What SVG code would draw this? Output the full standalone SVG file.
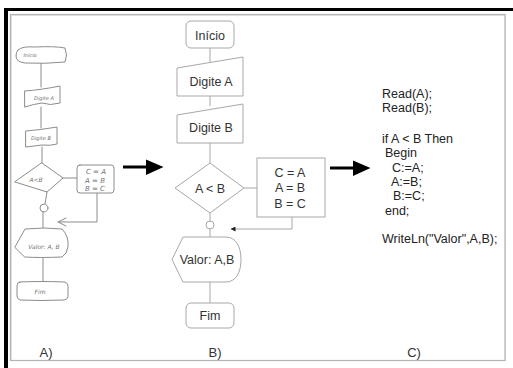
<svg xmlns="http://www.w3.org/2000/svg" width="513" height="368" viewBox="0 0 513 368">
  <style>
    .sk { fill: #ffffff; stroke: #8c8c8c; stroke-width: 1; stroke-linejoin: round; stroke-linecap: round; }
    .skl { fill: none; stroke: #8c8c8c; stroke-width: 1; stroke-linecap: round; }
    .skt { font-family: "DejaVu Sans", sans-serif; font-style: italic; fill: #707070; text-anchor: middle; }
    .fc { fill: #ffffff; stroke: #a8a8a8; stroke-width: 1; }
    .fcl { fill: none; stroke: #a8a8a8; stroke-width: 1; }
    .fct { font-family: "Liberation Sans", Arial, sans-serif; font-size: 12.5px; fill: #333333; text-anchor: middle; }
    .code { font-family: "Liberation Sans", Arial, sans-serif; font-size: 12.5px; fill: #222222; }
    .lbl { font-family: "Liberation Sans", Arial, sans-serif; font-size: 13px; fill: #333333; text-anchor: middle; }
  </style>
  <defs>
    <marker id="tri" viewBox="0 0 10 10" refX="9" refY="5" markerWidth="5" markerHeight="5" orient="auto">
      <path d="M0,0 L10,5 L0,10 Z" fill="#222222"/>
    </marker>
  </defs>

  <!-- page -->
  <rect x="0" y="0" width="513" height="368" fill="#ffffff"/>
  <rect x="4" y="8" width="509" height="3" fill="#000000"/>
  <rect x="4" y="8" width="4" height="360" fill="#000000"/>
  <rect x="10.5" y="14.5" width="494.5" height="346" fill="none" stroke="#b4b4b4" stroke-width="1.2"/>
  <line x1="11.5" y1="15.5" x2="11.5" y2="360" stroke="#dddddd"/>
  <line x1="11.5" y1="15.5" x2="504" y2="15.5" stroke="#dddddd"/>
  <line x1="505.5" y1="14" x2="505.5" y2="361" stroke="#c4c4c4" stroke-width="1"/>

  <!-- A) hand sketch -->
  <g id="sketch-connectors">
    <path class="skl" d="M41,63 L41,87"/>
    <path class="skl" d="M41,107 L41,128"/>
    <path class="skl" d="M42,147 L42,163"/>
    <path class="skl" d="M63,178 L77,178"/>
    <path class="skl" d="M47,192 L45,204"/>
    <path class="skl" d="M43,212 L43,228"/>
    <path class="skl" d="M97,193 L97,222 L58,222"/>
    <path class="skl" d="M66,218 L58,222 L66,226"/>
    <path class="skl" d="M43,257 L43,282"/>
  </g>
  <g id="sketch-inicio">
    <path class="sk" d="M18,50 Q22,46 35,47 Q55,46 65,48 Q68,55 65,62 Q45,64 25,63 Q16,62 16,56 Q16,52 18,50 Z"/>
    <text class="skt" x="30" y="57" font-size="5">Inicio</text>
  </g>
  <g id="sketch-digite-a">
    <path class="sk" d="M25,91 Q40,90 60,86 L60,103 Q50,106 42,103 Q34,104 25,107 Z"/>
    <text class="skt" x="44" y="100" font-size="5">Digite A</text>
  </g>
  <g id="sketch-digite-b">
    <path class="sk" d="M26,131 Q40,130 57,127 L57,144 Q50,146 42,145 Q34,146 26,147 Z"/>
    <text class="skt" x="41" y="140" font-size="5">Digite B</text>
  </g>
  <g id="sketch-decision">
    <path class="sk" d="M42,163 L63,178 L47,192 L15,182 Z"/>
    <text class="skt" x="36" y="182" font-size="6">A&lt;B</text>
  </g>
  <g id="sketch-swap">
    <rect class="sk" x="77" y="165" width="37" height="28" rx="3"/>
    <text class="skt" x="96" y="174" font-size="7">C = A</text>
    <text class="skt" x="95" y="183" font-size="7">A = B</text>
    <text class="skt" x="95" y="191" font-size="7">B = C</text>
  </g>
  <g id="sketch-connector-circle">
    <circle class="sk" cx="44" cy="208" r="4"/>
  </g>
  <g id="sketch-valor">
    <path class="sk" d="M15,247 L25,229 Q45,227 62,229 Q69,236 68,247 Q67,254 62,257 Q40,258 25,257 Z"/>
    <text class="skt" x="44" y="249" font-size="6">Valor: A, B</text>
  </g>
  <g id="sketch-fim">
    <path class="sk" d="M20,282 Q40,281 65,282 Q68,283 68,286 L68,297 Q67,300 64,300 Q40,301 20,300 Q17,299 17,296 L17,286 Q17,282 20,282 Z"/>
    <text class="skt" x="40" y="294" font-size="6">Fim</text>
  </g>

  <!-- big arrows between panels -->
  <g id="arrows">
    <path d="M123,167 L148,167" stroke="#000000" stroke-width="3"/>
    <path d="M146,159.5 L163.5,167 L146,175 Z" fill="#000000"/>
    <path d="M330,168 L355,168" stroke="#000000" stroke-width="3"/>
    <path d="M353,160.5 L370.5,168 L353,176 Z" fill="#000000"/>
  </g>

  <!-- B) flowchart -->
  <g id="flow-connectors">
    <path class="fcl" d="M210,48 L210,62"/>
    <path class="fcl" d="M210,96 L210,106"/>
    <path class="fcl" d="M210,143 L210,163"/>
    <path class="fcl" d="M244,188 L257,188"/>
    <path class="fcl" d="M210,213 L210,221"/>
    <path class="fcl" d="M210,229 L210,237"/>
    <path class="fcl" d="M292,217 L292,229 L231,229" marker-end="url(#tri)"/>
    <path class="fcl" d="M210,282 L210,303"/>
  </g>
  <g id="inicio">
    <rect class="fc" x="186" y="21" width="48" height="27" rx="5"/>
    <text class="fct" x="210" y="39.5">Início</text>
  </g>
  <g id="digite-a">
    <path class="fc" d="M177,68 L243,57 L243,96 L177,96 Z"/>
    <text class="fct" x="211" y="85.5">Digite A</text>
  </g>
  <g id="digite-b">
    <path class="fc" d="M177,115 L243,104 L243,143 L177,143 Z"/>
    <text class="fct" x="211" y="131.5">Digite B</text>
  </g>
  <g id="decision">
    <path class="fc" d="M210,163 L244,188 L210,213 L175,188 Z"/>
    <text class="fct" x="210" y="192.5">A &lt; B</text>
  </g>
  <g id="swap">
    <rect class="fc" x="257" y="158" width="68" height="59"/>
    <text class="fct" x="290" y="176.5">C = A</text>
    <text class="fct" x="290" y="192">A = B</text>
    <text class="fct" x="290" y="207.5">B = C</text>
  </g>
  <g id="junction">
    <circle class="fc" cx="210" cy="225" r="4"/>
  </g>
  <g id="valor">
    <path class="fc" d="M172,259.5 L183,237 L226,237 C236,237 241,247 241,259.5 C241,272 236,282 226,282 L183,282 Z"/>
    <text class="fct" x="207" y="264">Valor: A,B</text>
  </g>
  <g id="fim">
    <rect class="fc" x="186" y="303" width="48" height="25" rx="5"/>
    <text class="fct" x="210" y="320">Fim</text>
  </g>

  <!-- C) source code -->
  <g id="code">
    <text class="code" x="382" y="97.5">Read(A);</text>
    <text class="code" x="382" y="112">Read(B);</text>
    <text class="code" x="382" y="142.5">if A &lt; B Then</text>
    <text class="code" x="385" y="157">Begin</text>
    <text class="code" x="392" y="171.5">C:=A;</text>
    <text class="code" x="391" y="186">A:=B;</text>
    <text class="code" x="393" y="200">B:=C;</text>
    <text class="code" x="385" y="214.5">end;</text>
    <text class="code" x="382" y="242.5">WriteLn("Valor",A,B);</text>
  </g>

  <!-- panel labels -->
  <text class="lbl" x="46" y="357">A)</text>
  <text class="lbl" x="215" y="357">B)</text>
  <text class="lbl" x="414" y="357">C)</text>
</svg>
